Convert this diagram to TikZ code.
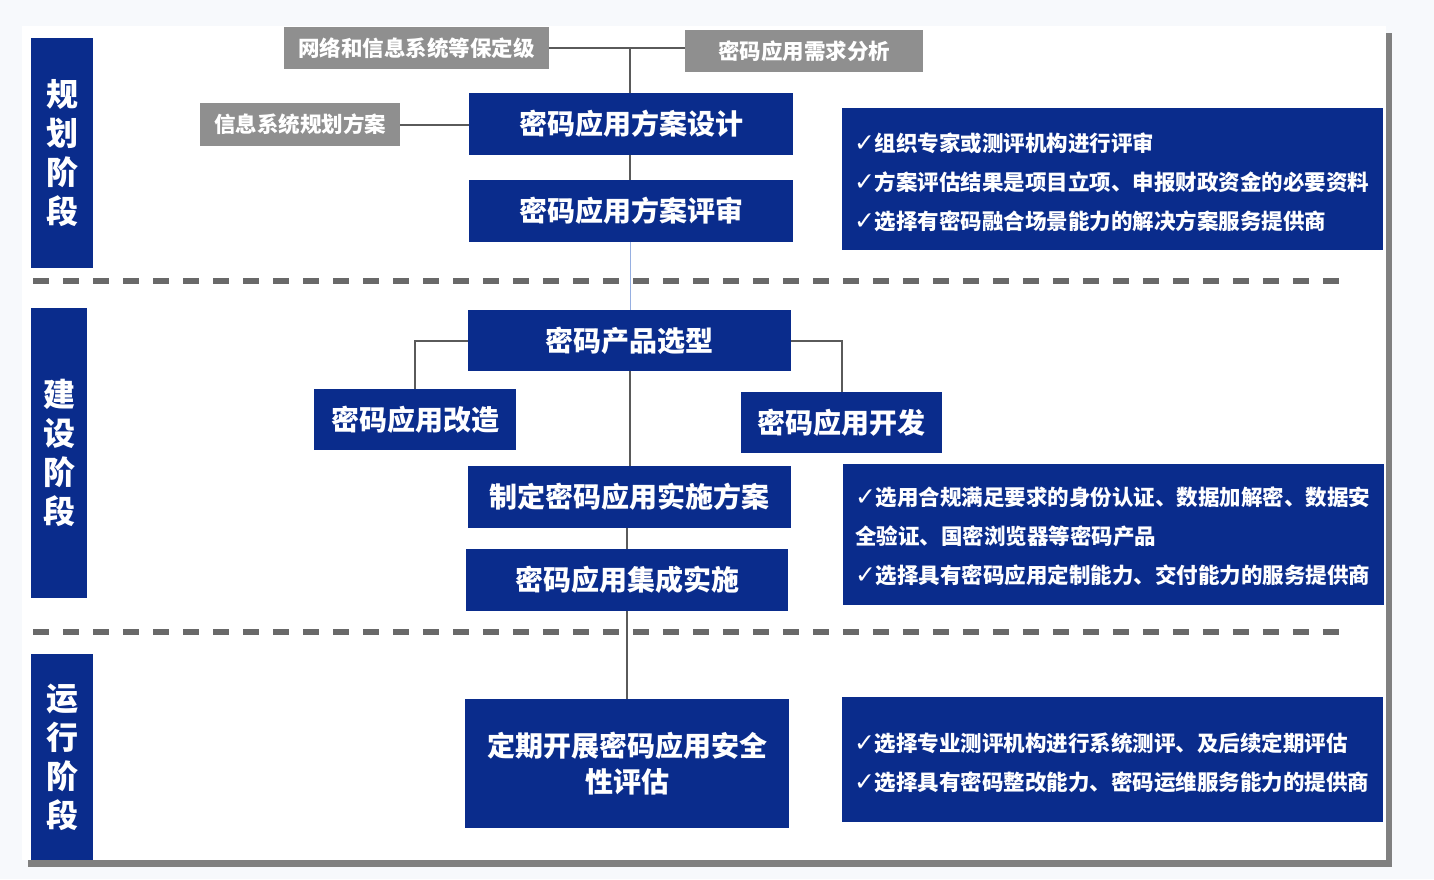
\documentclass[tikz,border=0pt]{standalone}
\usepackage{fontspec}
\newfontfamily\cjk{Noto Sans CJK SC}
\newfontfamily\symf{DejaVu Sans}
\newcommand{\ck}{{\symf\fontsize{25}{39}\selectfont ✓}}
\definecolor{navy}{RGB}{10,44,140}
\definecolor{boxgray}{RGB}{143,143,143}
\definecolor{shadowgray}{RGB}{128,128,128}
\definecolor{dashgray}{RGB}{105,105,105}
\definecolor{linegray}{RGB}{90,90,90}
\definecolor{bgc}{RGB}{247,249,252}
\definecolor{thinblue}{RGB}{150,175,225}
\tikzset{
  bluebox/.style={fill=navy, draw=none, text=white, inner sep=0pt, align=center,
    font=\cjk\bfseries\fontsize{28}{36}\selectfont},
  graybox/.style={fill=boxgray, draw=none, text=white, inner sep=0pt, align=center,
    font=\cjk\bfseries\fontsize{21.5}{26}\selectfont},
  phasebox/.style={fill=navy, draw=none, text=white, inner sep=0pt, align=center,
    font=\cjk\bfseries\fontsize{32}{39}\selectfont},
  infobox/.style={fill=navy, draw=none, inner sep=0pt},
  infotext/.style={text=white, inner sep=0pt, align=left, anchor=west,
    font=\cjk\bfseries\fontsize{21.5}{39}\selectfont},
  conn/.style={draw=linegray, line width=2pt},
  dashline/.style={draw=dashgray, line width=5.5pt, dash pattern=on 16pt off 14pt}
}
\begin{document}
\begin{tikzpicture}[x=1pt,y=-1pt]
\useasboundingbox (0,0) rectangle (1434,879);
\fill[bgc] (0,0) rectangle (1434,879);
% panel with shadow
\fill[shadowgray] (1386,33) rectangle (1392,867);
\fill[shadowgray] (28,860) rectangle (1392,867);
\fill[white] (22,26) rectangle (1386,860);

% dashed separators
\draw[dashline] (33,281) -- (1350,281);
\draw[dashline] (33,632) -- (1350,632);

% phase bars
\node[phasebox, minimum width=62pt, minimum height=230pt] (p1) at (62,153) {规\\划\\阶\\段};
\node[phasebox, minimum width=56pt, minimum height=290pt] (p2) at (59,453) {建\\设\\阶\\段};
\node[phasebox, minimum width=62pt, minimum height=206pt] (p3) at (62,757) {运\\行\\阶\\段};

% gray input boxes
\node[graybox, minimum width=265pt, minimum height=42pt] (g1) at (416.5,48) {网络和信息系统等保定级};
\node[graybox, minimum width=238pt, minimum height=42pt] (g2) at (804,51) {密码应用需求分析};
\node[graybox, minimum width=200pt, minimum height=43pt] (g3) at (300,124.5) {信息系统规划方案};

% main process boxes
\node[bluebox, minimum width=324pt, minimum height=62pt] (design) at (631,124) {密码应用方案设计};
\node[bluebox, minimum width=324pt, minimum height=62pt] (review) at (631,211) {密码应用方案评审};
\node[bluebox, minimum width=323pt, minimum height=61pt] (select) at (629.5,340.5) {密码产品选型};
\node[bluebox, minimum width=202pt, minimum height=61pt] (reform) at (415,419.5) {密码应用改造};
\node[bluebox, minimum width=201pt, minimum height=61pt] (develop) at (841.5,422.5) {密码应用开发};
\node[bluebox, minimum width=323pt, minimum height=62pt] (plan) at (629.5,497) {制定密码应用实施方案};
\node[bluebox, minimum width=322pt, minimum height=62pt] (integ) at (627,580) {密码应用集成实施};
\node[bluebox, minimum width=324pt, minimum height=129pt] (assess) at (627,763.5) {定期开展密码应用安全\\性评估};

% info boxes
\node[infobox, minimum width=541pt, minimum height=142pt] (i1) at (1112.5,179) {};
\node[infotext] (t1) at ([xshift=12pt,yshift=-3pt]i1.west) {\ck 组织专家或测评机构进行评审\\\ck 方案评估结果是项目立项、申报财政资金的必要资料\\\ck 选择有密码融合场景能力的解决方案服务提供商};
\node[infobox, minimum width=541pt, minimum height=141pt] (i2) at (1113.5,534.5) {};
\node[infotext] (t2) at ([xshift=12pt,yshift=-2pt]i2.west) {\ck 选用合规满足要求的身份认证、数据加解密、数据安\\全验证、国密浏览器等密码产品\\\ck 选择具有密码应用定制能力、交付能力的服务提供商};
\node[infobox, minimum width=541pt, minimum height=125pt] (i3) at (1112.5,759.5) {};
\node[infotext] (t3) at ([xshift=12pt,yshift=-3pt]i3.west) {\ck 选择专业测评机构进行系统测评、及后续定期评估\\\ck 选择具有密码整改能力、密码运维服务能力的提供商};

% connectors
\coordinate (j1) at (630,48);
\draw[conn] (g1.east) -- (g1.east -| g2.west);
\draw[conn] (j1) -- (j1 |- design.north);
\draw[conn] (g3.east) -- (g3.east -| design.west);
\draw[conn] (design.south -| j1) -- (review.north -| j1);
\draw[draw=thinblue, line width=1pt] (review.south -| j1) -- (select.north -| j1);
\draw[conn] (select.west) -| (reform.north);
\draw[conn] (select.east) -| (develop.north);
\draw[conn] (select.south -| j1) -- (plan.north -| j1);
\draw[conn] (integ.north |- plan.south) -- (integ.north);
\draw[conn] (integ.south) -- (assess.north);
\end{tikzpicture}
\end{document}
